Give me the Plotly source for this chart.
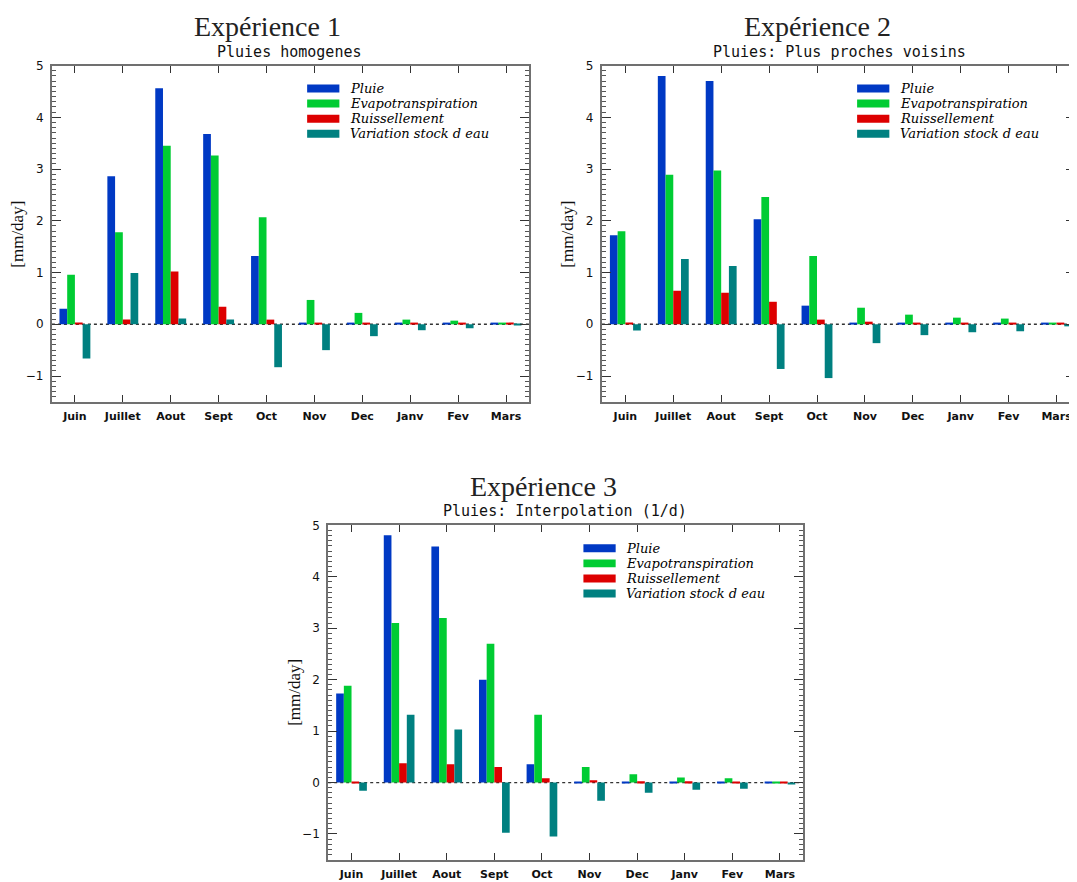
import plotly.graph_objects as go

# ---------------- data ----------------
months = ["Juin", "Juillet", "Aout", "Sept", "Oct", "Nov", "Dec", "Janv", "Fev", "Mars"]
series_names = ["Pluie", "Evapotranspiration", "Ruissellement", "Variation stock d eau"]
series_colors = ["#0039C4", "#00CC33", "#DD0000", "#008080"]

main_titles = ["Expérience 1", "Expérience 2", "Expérience 3"]
sub_titles = ["Pluies homogenes", "Pluies: Plus proches voisins", "Pluies: Interpolation (1/d)"]
y_label = "[mm/day]"
y_ticks = [-1, 0, 1, 2, 3, 4, 5]

exp1_pluie = [0.30, 2.86, 4.56, 3.68, 1.32, 0.02, 0.02, 0.02, 0.02, 0.02]
exp1_evapo = [0.955, 1.78, 3.45, 3.26, 2.07, 0.47, 0.22, 0.09, 0.07, 0.02]
exp1_ruiss = [0.015, 0.09, 1.02, 0.34, 0.09, 0.015, 0.015, 0.015, 0.015, 0.015]
exp1_stock = [-0.66, 0.99, 0.11, 0.09, -0.83, -0.50, -0.23, -0.115, -0.077, -0.02]

exp2_pluie = [1.72, 4.80, 4.70, 2.03, 0.36, 0.02, 0.02, 0.02, 0.02, 0.02]
exp2_evapo = [1.80, 2.89, 2.97, 2.46, 1.32, 0.32, 0.186, 0.128, 0.11, 0.02]
exp2_ruiss = [0.03, 0.646, 0.61, 0.435, 0.09, 0.05, 0.03, 0.03, 0.03, 0.015]
exp2_stock = [-0.12, 1.26, 1.126, -0.864, -1.04, -0.365, -0.21, -0.154, -0.135, -0.04]

exp3_pluie = [1.73, 4.81, 4.59, 2.00, 0.355, 0.02, 0.02, 0.02, 0.02, 0.02]
exp3_evapo = [1.88, 3.10, 3.20, 2.70, 1.32, 0.30, 0.16, 0.10, 0.084, 0.02]
exp3_ruiss = [0.015, 0.374, 0.355, 0.30, 0.084, 0.045, 0.026, 0.026, 0.015, 0.015]
exp3_stock = [-0.16, 1.32, 1.03, -0.975, -1.05, -0.355, -0.20, -0.14, -0.12, -0.02]

experiments = [
    [exp1_pluie, exp1_evapo, exp1_ruiss, exp1_stock],
    [exp2_pluie, exp2_evapo, exp2_ruiss, exp2_stock],
    [exp3_pluie, exp3_evapo, exp3_ruiss, exp3_stock],
]

# ---------------- layout (pixels in the final window) ----------------
WIN_W, WIN_H = 1077, 882
OFF = 8  # default page body margin
W, H = WIN_W - OFF, WIN_H - OFF
# plot boxes: left, right, top, bottom (window pixels)
boxes = [
    (52, 530, 59, 398),
    (603, 1077, 59, 398),
    (328.8, 804.8, 522.5, 859.5),
]
x_ranges = [[-0.48, 9.48], [-0.49, 9.385], [-0.49, 9.49]]
y_range = [-1.5, 5]


def px_x(p):
    return (p - OFF) / W


def px_y(p):
    return 1 - (p - OFF) / H


fig = go.Figure()
annotations = []
shapes = []

axis_line = "#707070"
tick_col = "#333333"

for k, (box, series) in enumerate(zip(boxes, experiments)):
    l, r, t, b = box
    xa = "x" if k == 0 else f"x{k+1}"
    ya = "y" if k == 0 else f"y{k+1}"
    for name, col, vals in zip(series_names, series_colors, series):
        fig.add_trace(go.Bar(
            x=months, y=vals, name=name, marker=dict(color=col, line=dict(width=0)),
            xaxis=xa, yaxis=ya, showlegend=False,
        ))

    xkey = "xaxis" if k == 0 else f"xaxis{k+1}"
    ykey = "yaxis" if k == 0 else f"yaxis{k+1}"
    fig.layout[xkey] = dict(
        domain=[px_x(l), min(1.0, px_x(r))], anchor=ya, type="category",
        range=x_ranges[k], showline=True, linecolor=axis_line, linewidth=2,
        ticks="inside", ticklen=7, tickwidth=1.2, tickcolor=tick_col, mirror="allticks",
        showgrid=False, zeroline=False, ticklabelstandoff=3,
        tickfont=dict(family="DejaVu Sans", size=11, color="#111", weight="bold"),
    )
    fig.layout[ykey] = dict(
        domain=[max(0.0, px_y(b)), px_y(t)], anchor=xa, range=y_range,
        tickvals=y_ticks, showline=True, linecolor=axis_line, linewidth=2,
        ticks="inside", ticklen=9, tickwidth=1.2, tickcolor=tick_col, mirror="allticks",
        minor=dict(dtick=0.1, ticks="inside", ticklen=4, tickwidth=1, tickcolor="#555"),
        showgrid=False, zeroline=False, ticklabelstandoff=4,
        tickfont=dict(family="DejaVu Sans", size=12, color="#111"),
    )

    # dotted zero line
    shapes.append(dict(type="line", xref=f"{xa} domain", yref=ya, x0=0, x1=1, y0=0, y1=0,
                       line=dict(color="#333", width=1.3, dash="dot"), layer="below"))

    # titles
    annotations.append(dict(text=main_titles[k], xref="paper", yref="paper",
                            x=px_x(l + 215.7), y=px_y(t - 39), xanchor="center", yanchor="middle",
                            showarrow=False,
                            font=dict(family="Liberation Serif", size=28, color="#222")))
    annotations.append(dict(text=sub_titles[k], xref="paper", yref="paper",
                            x=px_x(l + 237.7), y=px_y(t - 14), xanchor="center", yanchor="middle",
                            showarrow=False,
                            font=dict(family="DejaVu Sans Mono", size=15, color="#111")))
    annotations.append(dict(text=y_label, xref="paper", yref="paper",
                            x=px_x(l - 34), y=px_y((t + b) / 2), xanchor="center", yanchor="middle",
                            textangle=-90, showarrow=False,
                            font=dict(family="Liberation Serif", size=17, color="#111")))

    # legend (manual, wide swatches)
    for i, (name, col) in enumerate(zip(series_names, series_colors)):
        cy = t + 23.1 + 15.2 * i
        shapes.append(dict(type="rect", xref="paper", yref="paper",
                           x0=px_x(l + 255.7), x1=px_x(l + 288), y0=px_y(cy + 4), y1=px_y(cy - 4),
                           fillcolor=col, line=dict(width=0)))
        annotations.append(dict(text=name, xref="paper", yref="paper",
                                x=px_x(l + 296.3), y=px_y(cy), xanchor="left", yanchor="middle",
                                showarrow=False,
                                font=dict(family="DejaVu Serif", size=13, color="#000", style="italic")))

fig.update_layout(
    width=W, height=H, margin=dict(l=0, r=0, t=0, b=0),
    paper_bgcolor="white", plot_bgcolor="white",
    barmode="group", bargap=0.355, bargroupgap=0,
    showlegend=False, annotations=annotations, shapes=shapes,
)

fig.write_html("out.html")
